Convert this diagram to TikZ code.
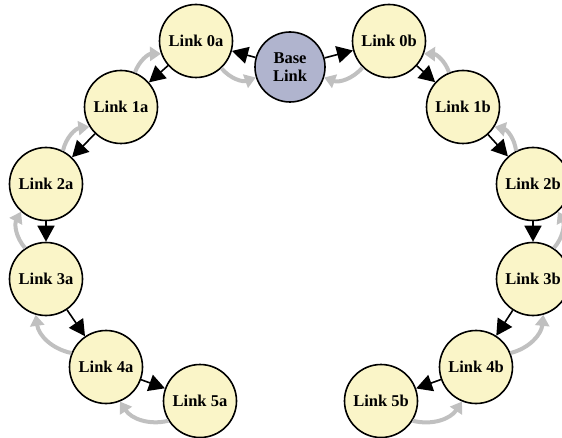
\documentclass[tikz,border=0pt]{standalone}
\usepackage{fontspec}
\setmainfont{Liberation Serif}
\usetikzlibrary{arrows.meta}
\definecolor{linkfill}{RGB}{250,245,200}
\definecolor{basefill}{RGB}{176,180,206}
\definecolor{backarrow}{RGB}{192,192,192}
\tikzset{
  linknode/.style={circle, draw=black, line width=1.6pt, fill=linkfill,
    minimum size=73pt, inner sep=0pt,
    font=\fontsize{16.5}{18}\selectfont\bfseries, align=center},
  basenode/.style={linknode, fill=basefill, minimum size=70pt},
  fwd/.style={draw=black, line width=1.6pt, -{Triangle[length=16pt,width=17pt]}},
  back/.style={draw=backarrow, line width=4pt, -{Triangle[length=11pt,width=14pt]}}
}
\begin{document}
\begin{tikzpicture}[x=1pt,y=-1pt]
\useasboundingbox (0,0) rectangle (562,438);
\clip (0,0) rectangle (562,438);

% tree nodes
\node[basenode] (base) at (290,67) {Base\\Link};
\node[linknode] (l0a) at (196,41) {Link 0a};
\node[linknode] (l1a) at (121,107) {Link 1a};
\node[linknode] (l2a) at (46,184) {Link 2a};
\node[linknode] (l3a) at (46,279) {Link 3a};
\node[linknode] (l4a) at (106,367) {Link 4a};
\node[linknode] (l5a) at (200,401) {Link 5a};
\node[linknode] (l0b) at (389,41) {Link 0b};
\node[linknode] (l1b) at (463,107) {Link 1b};
\node[linknode] (l2b) at (533,184) {Link 2b};
\node[linknode] (l3b) at (533,279) {Link 3b};
\node[linknode] (l4b) at (476,367) {Link 4b};
\node[linknode] (l5b) at (381,401) {Link 5b};

% parent -> child
\draw[fwd] (base) -- (l0a);
\draw[fwd] (l0a) -- (l1a);
\draw[fwd] (l1a) -- (l2a);
\draw[fwd] (l2a) -- (l3a);
\draw[fwd] (l3a) -- (l4a);
\draw[fwd] (l4a) -- (l5a);
\draw[fwd] (base) -- (l0b);
\draw[fwd] (l0b) -- (l1b);
\draw[fwd] (l1b) -- (l2b);
\draw[fwd] (l2b) -- (l3b);
\draw[fwd] (l3b) -- (l4b);
\draw[fwd] (l4b) -- (l5b);

% child -> parent
\draw[back] (l0a.-47) to[bend right=35] (base.197);
\draw[back] (l1a.68) to[bend left=35] (l0a.200);
\draw[back] (l2a.63) to[bend left=35] (l1a.212);
\draw[back] (l3a.124) to[bend left=35] (l2a.228);
\draw[back] (l4a.158) to[bend left=35] (l3a.254);
\draw[back] (l5a.212) to[bend left=35] (l4a.292);
\draw[back] (l0b.225) to[bend left=35] (base.343);
\draw[back] (l1b.112) to[bend right=35] (l0b.340);
\draw[back] (l2b.117) to[bend right=35] (l1b.328);
\draw[back] (l3b.56) to[bend right=35] (l2b.312);
\draw[back] (l4b.22) to[bend right=35] (l3b.286);
\draw[back] (l5b.328) to[bend right=35] (l4b.248);
\end{tikzpicture}
\end{document}
